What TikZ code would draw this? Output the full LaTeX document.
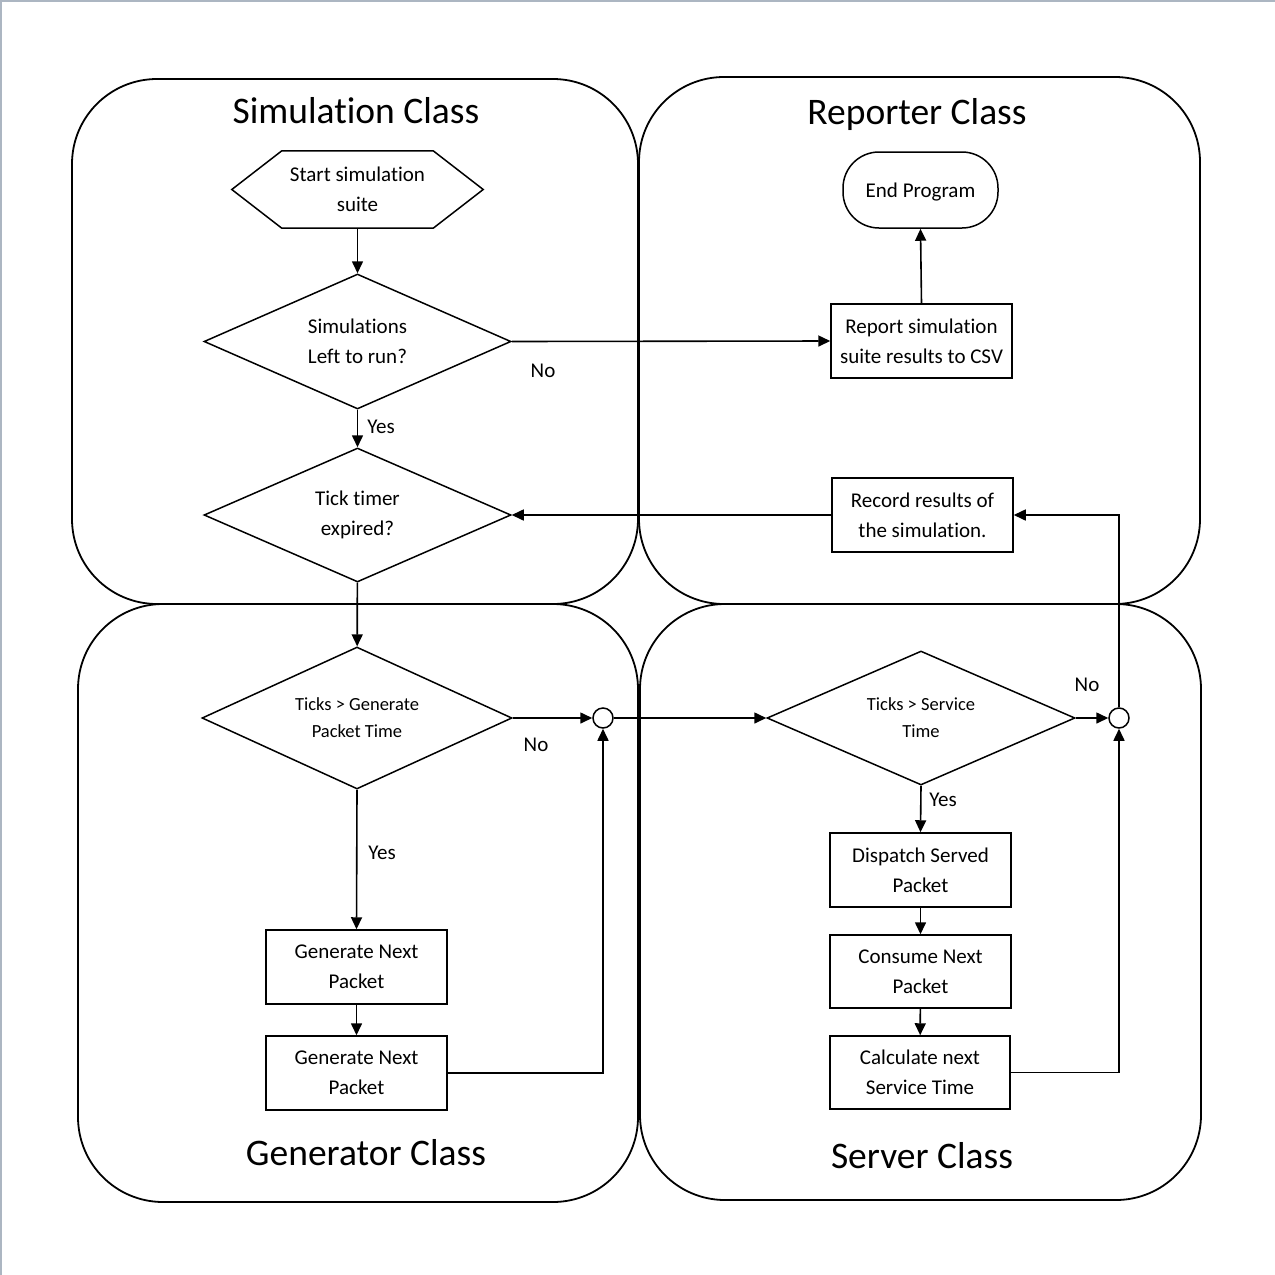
\documentclass[tikz,border=0pt]{standalone}
\usepackage{fontspec}
\setmainfont[Ligatures=NoCommon]{Carlito}
\usetikzlibrary{shapes.geometric,shapes.misc,arrows.meta}
\begin{document}
\begin{tikzpicture}[x=1pt,y=-1pt,
  container/.style={draw=black,line width=1.8pt,rounded corners=85pt},
  title/.style={font=\fontsize{37.5}{40}\selectfont},
  boxtxt/.style={font=\fontsize{21}{30}\selectfont,align=center},
  procbox/.style={draw,line width=1.5pt,boxtxt,minimum width=181pt,minimum height=74pt,inner sep=0pt},
  decision/.style={draw,line width=1.5pt,diamond,aspect=2.3,inner sep=0pt,boxtxt},
  junction/.style={draw,line width=1.5pt,circle,minimum size=20pt,inner sep=0pt},
  lbl/.style={font=\fontsize{21}{24}\selectfont},
  conn/.style={line width=1.6pt,-{Triangle[length=12pt,width=11pt]}},
  plain/.style={line width=1.5pt}
]
\useasboundingbox (0,0) rectangle (1275,1275);
\fill[white] (0,0) rectangle (1275,1275);
\draw[line width=1.5pt,color={rgb,255:red,172;green,182;blue,194}] (0.75,1275) -- (0.75,0.75) -- (1275,0.75);

% containers
\draw[container] (72,79) rectangle (638,604);
\draw[container] (639,77) rectangle (1200,604);
\draw[container] (78,604) rectangle (638,1202);
\draw[container] (640,604) rectangle (1201,1200);

\node[title] (tsim) at (356,111) {Simulation Class};
\node[title] (trep) at (917,114) {Reporter Class};
\node[title] (tgen) at (366,1153) {Generator Class};
\node[title] (tser) at (922,1156) {Server Class};

% start hexagon
\node[boxtxt,minimum width=251pt,minimum height=77pt,inner sep=0pt] (start) at (357.5,189.5) {Start simulation\\suite};
\draw[line width=1.5pt] ([xshift=50pt]start.north west) -- ([xshift=-50pt]start.north east) -- (start.east) -- ([xshift=-50pt]start.south east) -- ([xshift=50pt]start.south west) -- (start.west) -- cycle;

\node[decision,minimum width=307pt,minimum height=135pt] (d1) at (357.5,341.5) {Simulations\\Left to run?};
\node[decision,minimum width=307pt,minimum height=134pt] (d2) at (357.5,515) {Tick timer\\expired?};
\node[decision,minimum width=310pt,minimum height=142pt,font=\fontsize{18.5}{27}\selectfont] (d3) at (357,718) {Ticks > Generate\\Packet Time};
\node[procbox] (g1) at (356.5,967) {Generate Next\\Packet};
\node[procbox] (g2) at (356.5,1073) {Generate Next\\Packet};
\node[junction] (c1) at (603,718) {};

\node[decision,minimum width=308pt,minimum height=134pt,font=\fontsize{18.5}{27}\selectfont] (d4) at (921,718) {Ticks > Service\\Time};
\node[junction] (c2) at (1119,718) {};
\node[procbox] (s1) at (920.5,870) {Dispatch Served\\Packet};
\node[procbox,minimum height=73pt] (s2) at (920.5,971.5) {Consume Next\\Packet};
\node[procbox,minimum width=180pt,minimum height=73pt] (s3) at (920,1072.5) {Calculate next\\Service Time};

\node[procbox] (rec) at (922.5,515) {Record results of\\the simulation.};
\node[procbox] (rep) at (921.5,341) {Report simulation\\suite results to CSV};
\node[draw,line width=1.5pt,rounded corners=36pt,minimum width=155pt,minimum height=76pt,inner sep=0pt,boxtxt,text height=19pt,text depth=4pt] (endp) at (920.5,190) {End Program};

% connectors
\draw[conn] (start) -- (d1);
\draw[conn] (d1.east) -- (rep.west);
\draw[conn] (d1) -- (d2);
\draw[conn] (d2) -- (d3);
\draw[conn] (d3.east) -- (c1.west);
\draw[conn] (d3.south) -- (g1.north);
\draw[conn] (g1) -- (g2);
\draw[conn] (g2.east) -| (c1.south);
\draw[conn] (c1.east) -- (d4.west);
\draw[conn] (d4.east) -- (c2.west);
\draw[conn] (d4.south) -- (s1.north);
\draw[conn] (s1) -- (s2);
\draw[conn] (s2) -- (s3);
\draw[conn] (s3.east) -| (c2.south);
\draw[conn] (c2.north) |- (rec.east);
\draw[conn] (rec.west) -- (d2.east);
\draw[conn] (rep.north) -- (endp.south);

% labels
\node[lbl] (no1) at (543,371) {No};
\node[lbl] (yes1) at (381,427) {Yes};
\node[lbl] (no2) at (536,745) {No};
\node[lbl] (yes2) at (382,853) {Yes};
\node[lbl] (no3) at (1087,685) {No};
\node[lbl] (yes3) at (943,800) {Yes};
\end{tikzpicture}
\end{document}
